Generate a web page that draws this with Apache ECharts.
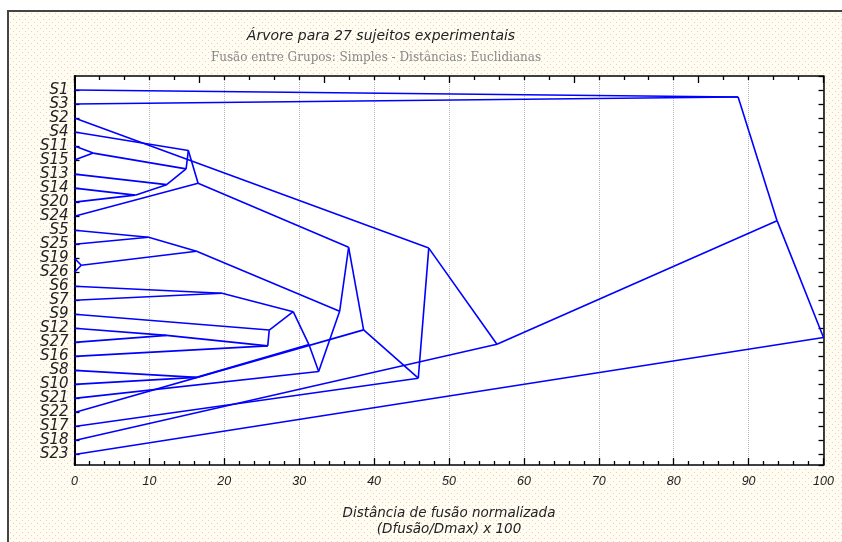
<!DOCTYPE html>
<html>
<head>
<meta charset="utf-8">
<title>Árvore para 27 sujeitos experimentais</title>
<script src="https://cdn.jsdelivr.net/npm/echarts@6/dist/echarts.min.js"></script>
<style type="text/css">
    html, body { margin: 0; padding: 0; background: #fff; }
    #chart { width: 842px; height: 542px; }
</style>
</head>
<body>
<div id="chart"></div>
<script type="text/javascript">
    // folhas, na ordem do eixo (de cima para baixo)
    var leafNames = ['S1', 'S3', 'S2', 'S4', 'S11', 'S15', 'S13', 'S14', 'S20', 'S24', 'S5', 'S25', 'S19', 'S26',
        'S6', 'S7', 'S9', 'S12', 'S27', 'S16', 'S8', 'S10', 'S21', 'S22', 'S17', 'S18', 'S23'];

    // fusoes: no A + no B -> novo no 27, 28, ... (0..26 sao as folhas)
    var mergeA = [12, 4, 7, 10, 6, 17, 28, 3, 20, 30, 34, 14, 32, 16, 38, 41, 42, 36, 37, 45, 46, 2, 48, 0, 50, 51];
    var mergeB = [13, 5, 8, 11, 29, 18, 31, 33, 21, 27, 9, 15, 19, 39, 40, 35, 22, 43, 44, 23, 24, 47, 25, 1, 49, 26];
    var mergeDist = [0.9, 2.5, 8.1, 9.9, 12.3, 12.3, 14.9, 15.2, 16.3, 16.3, 16.5, 19.7, 25.8, 26.0, 29.2, 31.3,
        32.6, 35.4, 36.6, 38.6, 45.9, 47.3, 56.4, 88.6, 93.8, 100];

    var xTickLabels = ['0', '10', '20', '30', '40', '50', '60', '70', '80', '90', '100'];

    // posicao dos nos: x = distancia de fusao, y = media dos filhos
    var nodeX = [], nodeY = [];
    for (var i = 0; i < leafNames.length; i++) {
        nodeX.push(0);
        nodeY.push(i);
    }
    var segs = [];
    for (var k = 0; k < mergeA.length; k++) {
        var a = mergeA[k], b = mergeB[k];
        var id = leafNames.length + k;
        nodeX[id] = mergeDist[k];
        nodeY[id] = (nodeY[a] + nodeY[b]) / 2;
        segs.push({coords: [[nodeX[a], nodeY[a]], [nodeX[id], nodeY[id]]]});
        segs.push({coords: [[nodeX[b], nodeY[b]], [nodeX[id], nodeY[id]]]});
    }

    // fundo pontilhado
    var pat = document.createElement('canvas');
    pat.width = 6;
    pat.height = 6;
    var ctx = pat.getContext('2d');
    ctx.fillStyle = '#fefdf0';
    ctx.fillRect(0, 0, 6, 6);
    ctx.fillStyle = '#f4c6dc';
    ctx.fillRect(1, 1, 1, 1);
    ctx.fillRect(4, 4, 1, 1);

    var fontSans = '"DejaVu Sans", "Liberation Sans", sans-serif';
    var gridL = 74.5, gridR = 18.5, gridT = 76, gridB = 73.7;
    var tickStyle = {color: '#000', width: 1.3};

    var myChart = echarts.init(document.getElementById('chart'));
    var option = {
        backgroundColor: '#fff',
        animation: false,
        graphic: [{
            type: 'rect',
            z: -10,
            shape: {x: 8, y: 11, width: 850, height: 550},
            style: {fill: {image: pat, repeat: 'repeat'}, stroke: '#444', lineWidth: 2}
        }, {
            type: 'rect',
            z: -9,
            shape: {x: gridL, y: gridT, width: 842 - gridL - gridR, height: 542 - gridT - gridB},
            style: {fill: '#fff'}
        }],
        title: [{
            text: 'Árvore para 27 sujeitos experimentais',
            left: 376,
            top: 24,
            textAlign: 'center',
            textStyle: {fontFamily: fontSans, fontStyle: 'italic', fontWeight: 'normal', fontSize: 14, color: '#222'}
        }, {
            text: 'Fusão entre Grupos: Simples - Distâncias: Euclidianas',
            left: 371,
            top: 47,
            textAlign: 'center',
            textStyle: {fontFamily: '"DejaVu Serif", serif', fontWeight: 'normal', fontSize: 12, color: '#888'}
        }],
        grid: {
            left: gridL,
            right: gridR,
            top: gridT,
            bottom: gridB,
            show: false
        },
        xAxis: [{
            type: 'value',
            min: 0,
            max: 100,
            interval: 10,
            position: 'bottom',
            name: 'Distância de fusão normalizada\n(Dfusão/Dmax) x 100',
            nameLocation: 'middle',
            nameGap: 40,
            nameTextStyle: {fontFamily: fontSans, fontStyle: 'italic', fontSize: 13.5, color: '#222', lineHeight: 16},
            axisLine: {show: true, onZero: false, lineStyle: {color: '#000', width: 1.5}},
            axisTick: {show: true, inside: true, length: 7, lineStyle: tickStyle},
            minorTick: {show: true, splitNumber: 5, length: 4, lineStyle: tickStyle},
            axisLabel: {
                margin: 10,
                fontFamily: '"Liberation Sans", Arial, sans-serif', fontStyle: 'italic', fontSize: 12.5, color: '#222',
                formatter: function (v) {
                    return xTickLabels[Math.round(v / 10)];
                }
            },
            splitLine: {show: true, lineStyle: {type: 'dotted', color: '#b4b4b4', width: 1}}
        }, {
            type: 'value',
            min: 0,
            max: 6,
            interval: 1,
            position: 'top',
            axisLine: {show: true, onZero: false, lineStyle: {color: '#000', width: 1.5}},
            axisTick: {show: true, inside: true, length: 7, lineStyle: tickStyle},
            minorTick: {show: true, splitNumber: 5, length: 4, lineStyle: tickStyle},
            axisLabel: {show: false},
            splitLine: {show: false}
        }],
        yAxis: [{
            type: 'value',
            inverse: true,
            min: -1,
            max: 26.75,
            interval: 1,
            position: 'left',
            axisLine: {show: true, onZero: false, lineStyle: {color: '#000', width: 2}},
            axisTick: {show: true, inside: true, length: 5, lineStyle: tickStyle},
            axisLabel: {
                margin: 6,
                fontFamily: fontSans, fontStyle: 'italic', fontSize: 15, color: '#222',
                showMinLabel: false, showMaxLabel: false,
                formatter: function (v) {
                    return (v >= 0 && v < leafNames.length && v === Math.round(v)) ? leafNames[v] : '';
                }
            },
            splitLine: {show: false}
        }, {
            type: 'value',
            inverse: true,
            min: -1,
            max: 26.75,
            interval: 1,
            position: 'right',
            axisLine: {show: true, onZero: false, lineStyle: {color: '#000', width: 1.5}},
            axisTick: {show: true, inside: true, length: 5, lineStyle: tickStyle},
            axisLabel: {show: false},
            splitLine: {show: false}
        }],
        series: [{
            name: 'arvore',
            type: 'lines',
            coordinateSystem: 'cartesian2d',
            xAxisIndex: 0,
            yAxisIndex: 0,
            polyline: false,
            silent: true,
            lineStyle: {color: '#0000ff', width: 1.6, opacity: 1, curveness: 0},
            data: segs
        }]
    };
    myChart.setOption(option);
</script>
</body>
</html>
